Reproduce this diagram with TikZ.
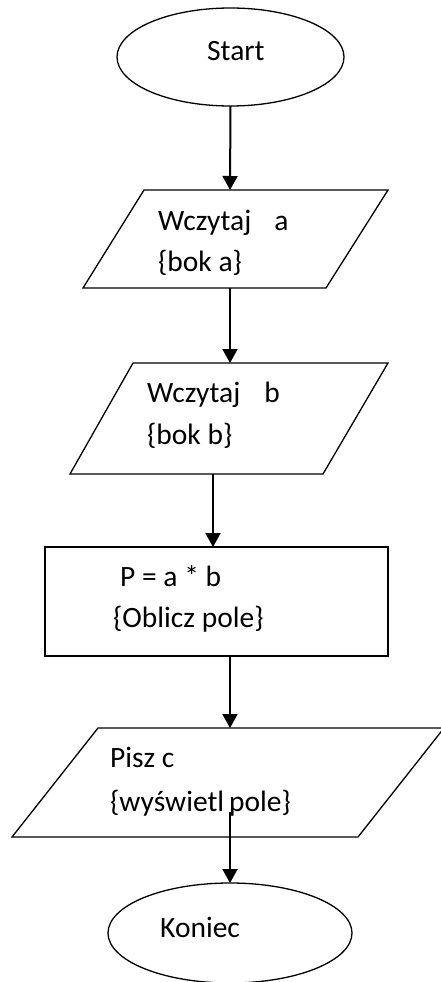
\documentclass[tikz,border=0pt]{standalone}
\usepackage{fontspec}
\setmainfont{Carlito}
\usetikzlibrary{arrows.meta,shapes.geometric}
\begin{document}
\begin{tikzpicture}[x=1pt,y=-1pt,
  shapeline/.style={draw=black,line width=1.3pt,line join=miter},
  term/.style={shapeline,ellipse,inner sep=0pt,outer sep=0pt},
  txt/.style={anchor=base west,inner sep=0pt,font=\fontsize{29.5}{35}\selectfont},
  conn/.style={line width=2pt,-{Triangle[length=14pt,width=15pt]}}]
\useasboundingbox (0,0) rectangle (441,982);
% start
\node[term,minimum width=227pt,minimum height=98pt] (start) at (230.5,57) {};
\node[txt] (tstart) at (207,60) {Start};
% input a
\coordinate (p1tl) at (144,190); \coordinate (p1tr) at (388,190);
\coordinate (p1br) at (326,288); \coordinate (p1bl) at (83,288);
\draw[shapeline] (p1tl) -- (p1tr) -- (p1br) -- (p1bl) -- cycle;
\coordinate (p1top) at (230,190); \coordinate (p1bot) at (230,288);
\node[txt] (ta1) at (158,230) {Wczytaj\hspace{23pt}a};
\node[txt] (ta2) at (158,271) {\{bok a\}};
% input b
\coordinate (p2tl) at (133,363); \coordinate (p2tr) at (388,363);
\coordinate (p2br) at (323,474); \coordinate (p2bl) at (70,474);
\draw[shapeline] (p2tl) -- (p2tr) -- (p2br) -- (p2bl) -- cycle;
\coordinate (p2top) at (230,363); \coordinate (p2bot) at (213,474);
\node[txt] (tb1) at (147,402) {Wczytaj\hspace{24pt}b};
\node[txt] (tb2) at (147,444) {\{bok b\}};
% process
\node[shapeline,rectangle,minimum width=343pt,minimum height=109pt,inner sep=0pt,outer sep=0pt] (calc) at (216.5,601.5) {};
\node[txt] (tc1) at (120,586) {P = a * b};
\node[txt] (tc2) at (113,627) {\{Oblicz pole\}};
% output
\coordinate (p3tl) at (98,728); \coordinate (p3tr) at (444,728);
\coordinate (p3br) at (358,837); \coordinate (p3bl) at (12,837);
\draw[shapeline] (p3tl) -- (p3tr) -- (p3br) -- (p3bl) -- cycle;
\coordinate (p3top) at (230,728); \coordinate (p3out) at (230,812);
\node[txt] (td1) at (110,767) {Pisz c};
\node[txt] (td2) at (110,811) {\{wyświetl\hspace{5pt}pole\}};
% end
\node[term,minimum width=244pt,minimum height=100pt] (end) at (230,933) {};
\node[txt] (tend) at (160,937) {Koniec};
% connectors
\draw[conn] (start.south) -- (p1top);
\draw[conn] (p1bot) -- (p2top);
\draw[conn] (p2bot) -- (p2bot |- calc.north);
\draw[conn] (calc.south -| p3top) -- (p3top);
\draw[conn] (p3out) -- (end.north);
\end{tikzpicture}
\end{document}
